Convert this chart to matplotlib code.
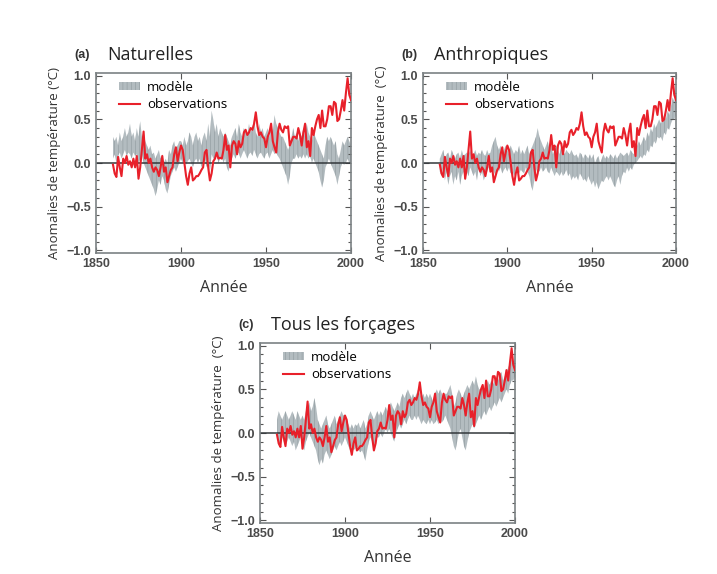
import numpy as np
import matplotlib.pyplot as plt
from matplotlib.patches import Patch
from matplotlib.lines import Line2D
from matplotlib.ticker import MultipleLocator

# years covered by both series
years = np.arange(1860, 2001)

# observed temperature anomaly (same in all three panels)
obs = [
    -0.02, -0.12, -0.16, 0.07, -0.05, -0.15, 0.05, 0.0, 0.08, -0.02,
    0.02, -0.05, 0.05, -0.05, 0.08, -0.18, -0.05, 0.15, 0.36, 0.05,
    0.1, 0.0, 0.05, -0.05, -0.1, -0.05, -0.08, -0.15, -0.05, 0.08,
    -0.1, -0.05, -0.22, -0.15, -0.08, -0.05, 0.1, 0.18, 0.02, 0.12,
    0.2, 0.15, 0.0, -0.15, -0.25, -0.12, -0.05, -0.2, -0.18, -0.15,
    -0.15, -0.12, -0.08, -0.05, 0.12, 0.15, -0.05, -0.2, -0.12, 0.02,
    0.05, 0.12, 0.05, 0.06, 0.05, 0.15, 0.32, 0.15, 0.2, -0.05,
    0.2, 0.25, 0.22, 0.1, 0.25, 0.18, 0.22, 0.35, 0.38, 0.32,
    0.35, 0.4, 0.38, 0.45, 0.58, 0.42, 0.32, 0.35, 0.3, 0.28,
    0.18, 0.3, 0.35, 0.45, 0.25, 0.18, 0.12, 0.35, 0.45, 0.38,
    0.35, 0.42, 0.4, 0.42, 0.2, 0.25, 0.3, 0.3, 0.28, 0.4,
    0.32, 0.2, 0.35, 0.45, 0.18, 0.25, 0.08, 0.4, 0.32, 0.42,
    0.5, 0.55, 0.4, 0.6, 0.42, 0.42, 0.5, 0.65, 0.65, 0.55,
    0.7, 0.68, 0.48, 0.5, 0.6, 0.72, 0.6, 0.8, 0.97, 0.78,
    0.72,
]

# model envelope, (a) natural forcings
hi_a = [
    0.3, 0.25, 0.3, 0.2, 0.35, 0.25, 0.3, 0.4, 0.3, 0.35,
    0.45, 0.3, 0.35, 0.25, 0.4, 0.3, 0.48, 0.3, 0.35, 0.25,
    0.2, 0.15, 0.2, 0.1, 0.12, 0.05, 0.1, 0.15, 0.05, 0.1,
    0.0, 0.05, 0.0, 0.15, 0.1, 0.2, 0.25, 0.15, 0.2, 0.25,
    0.25, 0.2, 0.3, 0.2, 0.25, 0.35, 0.3, 0.2, 0.3, 0.35,
    0.25, 0.3, 0.2, 0.3, 0.35, 0.25, 0.45, 0.3, 0.6, 0.5,
    0.35, 0.45, 0.3, 0.4, 0.35, 0.3, 0.35, 0.3, 0.25, 0.2,
    0.3, 0.35, 0.4, 0.3, 0.45, 0.35, 0.3, 0.4, 0.35, 0.3,
    0.45, 0.35, 0.4, 0.5, 0.35, 0.3, 0.45, 0.35, 0.4, 0.3,
    0.35, 0.4, 0.3, 0.45, 0.35, 0.55, 0.45, 0.4, 0.35, 0.3,
    0.3, 0.25, 0.2, 0.15, 0.2, 0.3, 0.4, 0.3, 0.35, 0.25,
    0.35, 0.3, 0.4, 0.3, 0.45, 0.35, 0.3, 0.25, 0.35, 0.3,
    0.25, 0.2, 0.15, 0.1, 0.05, 0.2, 0.3, 0.25, 0.3, 0.25,
    0.2, 0.25, 0.1, 0.05, 0.15, 0.25, 0.2, 0.25, 0.3, 0.25,
    0.2,
]
lo_a = [
    0.05, 0.1, 0.0, 0.08, 0.12, 0.05, 0.1, 0.15, 0.08, 0.12,
    0.1, 0.05, 0.12, 0.08, 0.1, 0.0, 0.05, 0.1, 0.0, -0.05,
    -0.1, -0.15, -0.2, -0.25, -0.3, -0.38, -0.3, -0.2, -0.25, -0.15,
    -0.2, -0.3, -0.35, -0.25, -0.15, -0.1, -0.05, -0.1, -0.05, 0.0,
    0.05, 0.0, 0.05, -0.02, 0.02, 0.05, 0.0, -0.05, 0.02, 0.05,
    0.0, 0.05, -0.05, 0.0, 0.05, -0.05, 0.05, -0.1, 0.1, 0.05,
    0.05, 0.1, 0.0, 0.05, 0.08, 0.0, 0.05, -0.05, -0.1, 0.0,
    0.05, 0.1, 0.05, 0.1, 0.12, 0.05, 0.1, 0.15, 0.1, 0.05,
    0.1, 0.12, 0.08, 0.15, 0.1, 0.05, 0.1, 0.12, 0.08, 0.05,
    0.1, 0.12, 0.05, 0.1, 0.15, 0.1, 0.12, 0.08, 0.05, 0.0,
    -0.05, -0.1, -0.15, -0.25, -0.15, 0.0, 0.05, 0.05, 0.1, 0.05,
    0.08, 0.05, 0.1, 0.05, 0.1, 0.05, 0.08, 0.0, 0.05, 0.0,
    -0.05, -0.1, -0.2, -0.28, -0.2, -0.05, 0.0, 0.05, 0.0, -0.05,
    -0.1, -0.15, -0.25, -0.15, -0.05, 0.0, -0.02, 0.0, 0.05, 0.0,
    0.0,
]

# model envelope, (b) anthropogenic forcings
hi_b = [
    0.05, 0.1, 0.15, 0.05, 0.1, 0.12, 0.05, 0.15, 0.1, 0.05,
    0.1, 0.12, 0.05, 0.15, 0.08, 0.1, 0.12, 0.1, 0.15, 0.08,
    0.1, 0.15, 0.08, 0.12, 0.1, 0.15, 0.1, 0.08, 0.15, 0.1,
    0.12, 0.2, 0.25, 0.3, 0.2, 0.15, 0.2, 0.1, 0.15, 0.2,
    0.15, 0.1, 0.2, 0.15, 0.1, 0.15, 0.12, 0.2, 0.1, 0.15,
    0.1, 0.15, 0.2, 0.1, 0.15, 0.2, 0.25, 0.3, 0.4, 0.3,
    0.25, 0.2, 0.15, 0.2, 0.25, 0.15, 0.2, 0.1, 0.15, 0.2,
    0.15, 0.1, 0.2, 0.15, 0.1, 0.15, 0.12, 0.1, 0.15, 0.1,
    0.08, 0.1, 0.05, 0.12, 0.1, 0.05, 0.1, 0.08, 0.05, 0.1,
    0.05, 0.1, 0.0, 0.05, 0.08, 0.0, 0.05, 0.1, 0.05, 0.08,
    0.05, 0.1, 0.08, 0.05, 0.1, 0.05, 0.08, 0.12, 0.1, 0.08,
    0.1, 0.12, 0.08, 0.15, 0.12, 0.1, 0.15, 0.2, 0.25, 0.2,
    0.25, 0.3, 0.25, 0.35, 0.3, 0.4, 0.35, 0.45, 0.4, 0.45,
    0.5, 0.45, 0.5, 0.55, 0.5, 0.6, 0.55, 0.65, 0.75, 0.7,
    0.85,
]
lo_b = [
    -0.1, -0.15, -0.05, -0.2, -0.1, -0.25, -0.15, -0.1, -0.25, -0.15,
    -0.2, -0.1, -0.25, -0.15, -0.1, -0.2, -0.1, -0.15, -0.05, -0.1,
    -0.15, -0.1, -0.2, -0.05, -0.15, -0.1, -0.2, -0.15, -0.1, -0.05,
    -0.1, -0.05, -0.1, -0.15, -0.05, -0.1, -0.05, -0.12, -0.08, -0.05,
    -0.1, -0.05, -0.12, -0.08, -0.15, -0.1, -0.05, -0.12, -0.08, -0.1,
    -0.12, -0.05, -0.1, -0.15, -0.25, -0.32, -0.2, -0.1, -0.05, -0.1,
    -0.05, -0.1, -0.08, -0.05, -0.1, -0.12, -0.05, -0.1, -0.15, -0.1,
    -0.12, -0.15, -0.1, -0.15, -0.12, -0.08, -0.15, -0.12, -0.2, -0.15,
    -0.18, -0.15, -0.2, -0.12, -0.15, -0.2, -0.18, -0.22, -0.15, -0.2,
    -0.25, -0.2, -0.28, -0.22, -0.3, -0.25, -0.2, -0.22, -0.18, -0.15,
    -0.2, -0.15, -0.2, -0.25, -0.28, -0.2, -0.15, -0.25, -0.15, -0.1,
    -0.12, -0.05, -0.1, -0.05, -0.08, -0.02, 0.0, 0.02, 0.05, 0.08,
    0.05, 0.1, 0.08, 0.15, 0.12, 0.2, 0.18, 0.25, 0.22, 0.3,
    0.28, 0.3, 0.25, 0.35, 0.32, 0.4, 0.38, 0.45, 0.5, 0.5,
    0.55,
]

# model envelope, (c) all forcings
hi_c = [
    0.15, 0.25, 0.2, 0.15, 0.2, 0.25, 0.2, 0.15, 0.2, 0.25,
    0.2, 0.15, 0.25, 0.2, 0.15, 0.2, 0.15, 0.25, 0.3, 0.35,
    0.25, 0.3, 0.4, 0.3, 0.15, 0.1, 0.05, 0.1, 0.15, 0.2,
    0.1, 0.05, 0.1, 0.15, 0.2, 0.1, 0.15, 0.2, 0.25, 0.2,
    0.2, 0.15, 0.1, 0.05, 0.1, 0.05, 0.1, 0.08, 0.12, 0.05,
    0.1, 0.15, 0.05, 0.1, 0.2, 0.25, 0.2, 0.15, 0.2, 0.25,
    0.2, 0.25, 0.2, 0.25, 0.3, 0.25, 0.3, 0.35, 0.3, 0.25,
    0.3, 0.35, 0.3, 0.4, 0.45, 0.4, 0.45, 0.5, 0.45, 0.4,
    0.45, 0.4, 0.45, 0.5, 0.45, 0.4, 0.45, 0.4, 0.45, 0.4,
    0.45, 0.4, 0.35, 0.45, 0.5, 0.45, 0.5, 0.45, 0.4, 0.45,
    0.45, 0.5, 0.55, 0.45, 0.3, 0.35, 0.45, 0.5, 0.45, 0.4,
    0.45, 0.5, 0.55, 0.5, 0.55, 0.6, 0.55, 0.65, 0.55, 0.5,
    0.5, 0.55, 0.5, 0.55, 0.6, 0.55, 0.6, 0.55, 0.6, 0.65,
    0.6, 0.65, 0.7, 0.6, 0.65, 0.7, 0.75, 0.8, 0.85, 0.8,
    0.85,
]
lo_c = [
    -0.05, -0.1, -0.15, -0.05, -0.1, -0.15, -0.1, -0.05, -0.1, -0.15,
    -0.1, -0.2, -0.15, -0.1, -0.05, -0.15, -0.2, -0.1, -0.05, 0.0,
    -0.05, -0.1, -0.15, -0.2, -0.3, -0.37, -0.3, -0.35, -0.25, -0.2,
    -0.25, -0.3, -0.25, -0.2, -0.15, -0.2, -0.15, -0.1, -0.15, -0.1,
    -0.05, -0.1, -0.15, -0.2, -0.15, -0.2, -0.18, -0.15, -0.2, -0.22,
    -0.2, -0.25, -0.32, -0.2, -0.1, -0.05, -0.1, -0.15, -0.1, -0.05,
    -0.05, 0.0, -0.05, 0.0, 0.05, 0.0, 0.05, 0.0, -0.05, -0.1,
    0.0, 0.05, 0.1, 0.05, 0.1, 0.15, 0.1, 0.15, 0.2, 0.15,
    0.15, 0.2, 0.15, 0.2, 0.15, 0.1, 0.15, 0.12, 0.1, 0.15,
    0.1, 0.15, 0.1, 0.12, 0.15, 0.1, 0.15, 0.12, 0.15, 0.2,
    0.15, 0.1, 0.05, -0.05, -0.15, -0.2, -0.1, 0.0, 0.05, -0.05,
    -0.15, -0.2, -0.1, 0.0, 0.05, 0.1, 0.05, 0.1, 0.15, 0.2,
    0.15, 0.2, 0.25, 0.2, 0.25, 0.3, 0.25, 0.3, 0.35, 0.3,
    0.35, 0.4, 0.35, 0.4, 0.45, 0.5, 0.45, 0.55, 0.6, 0.6,
    0.65,
]

titles = ["Naturelles", "Anthropiques", "Tous les forçages"]
letters = ["(a)", "(b)", "(c)"]
ylabels = ["Anomalies de température (°C)",
           "Anomalies de température  (°C)",
           "Anomalies de température  (°C)"]

W, H = 717, 574
fig = plt.figure(figsize=(W / 100, H / 100), dpi=100)
fig.patch.set_facecolor("white")

TXT = "Open Sans"
GRAY = "#b3bcc0"
HATCH = "#8f999d"
RED = "#e8202a"
FRAME = "#7c8284"
plt.rcParams["hatch.linewidth"] = 0.4

# axes boxes in pixels: left, top, right, bottom
boxes = [(96, 73, 351, 253), (423, 73, 676, 253), (260, 343, 515, 523)]
bands = [(lo_a, hi_a), (lo_b, hi_b), (lo_c, hi_c)]

for i, (l, t, r, b) in enumerate(boxes):
    ax = fig.add_axes([l / W, 1 - b / H, (r - l) / W, (b - t) / H])
    lo, hi = bands[i]
    ax.fill_between(years, lo, hi, facecolor=GRAY, edgecolor=HATCH,
                    hatch="||||", lw=0, zorder=1)
    ax.axhline(0, color="#33383b", lw=1.1, zorder=2)
    ax.plot(years, obs, color=RED, lw=1.5, zorder=3)

    ax.set_xlim(1850, 2000)
    ax.set_ylim(-1.03, 1.03)
    ax.set_xticks([1850, 1900, 1950, 2000])
    ax.set_yticks([-1.0, -0.5, 0.0, 0.5, 1.0])
    ax.set_yticklabels(["\u22121.0", "\u22120.5", "0.0", "0.5", "1.0"])
    ax.yaxis.set_minor_locator(MultipleLocator(0.1))
    ax.tick_params(which="both", direction="in", top=True, right=True,
                   color="#555", width=0.8)
    ax.tick_params(which="major", length=4, labelsize=9, labelcolor="#4a4a4a")
    ax.tick_params(which="minor", length=2)
    for lab in ax.get_xticklabels() + ax.get_yticklabels():
        lab.set_family("Liberation Sans")
        lab.set_fontweight("bold")
    for s in ax.spines.values():
        s.set_color(FRAME)
        s.set_linewidth(1.2)

    ax.set_ylabel(ylabels[i], family=TXT, fontsize=9.5, color="#333", labelpad=4)
    ax.set_xlabel("Année", family=TXT, fontsize=11.5, color="#333", labelpad=7)

    # panel letter and title
    ax.text(-0.085, 1.1, letters[i], transform=ax.transAxes, family="Liberation Sans",
            fontweight="bold", fontsize=9, color="#333", va="center")
    ax.text(0.045, 1.1, titles[i], transform=ax.transAxes, family=TXT,
            fontsize=13, color="#222", va="center")

    handles = [Patch(facecolor=GRAY, edgecolor=HATCH, hatch="||||", lw=0),
               Line2D([], [], color=RED, lw=1.5)]
    ax.legend(handles, ["modèle", "observations"], loc="upper left",
              bbox_to_anchor=(0.06, 1.0), frameon=False,
              prop={"family": TXT, "size": 9.5}, handlelength=1.6,
              handleheight=0.5, handletextpad=0.5, labelspacing=0.3,
              borderaxespad=0.2)

fig.savefig("out.png", dpi=100)
